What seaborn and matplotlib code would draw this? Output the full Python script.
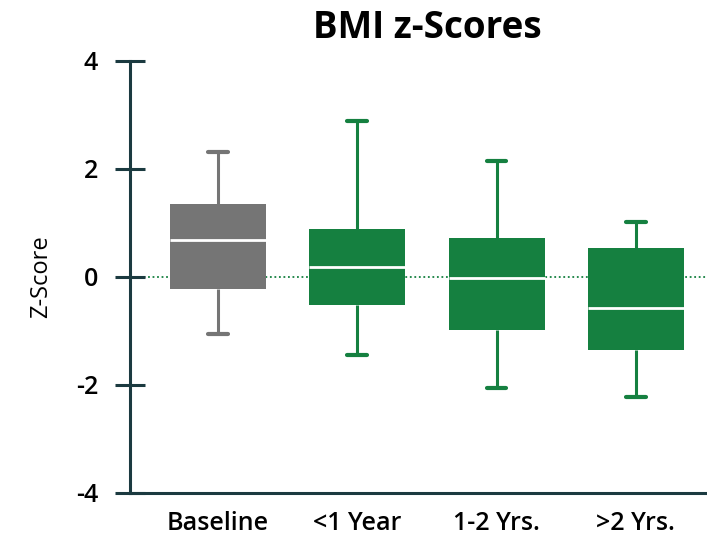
import numpy as np
import pandas as pd
import seaborn as sns
import matplotlib.pyplot as plt

# Five-number summaries (min, Q1, median, Q3, max) per group
categories = ["Baseline", "<1 Year", "1-2 Yrs.", ">2 Yrs."]
mins = [-1.06, -1.44, -2.06, -2.23]
q1s = [-0.22, -0.52, -0.99, -1.36]
medians = [0.69, 0.19, -0.02, -0.57]
q3s = [1.34, 0.89, 0.72, 0.54]
maxs = [2.31, 2.88, 2.15, 1.01]
colors = ["#757575", "#158040", "#158040", "#158040"]

rows = []
for cat, a, b, c, d, e in zip(categories, mins, q1s, medians, q3s, maxs):
    for v in (a, b, c, d, e):
        rows.append({"group": cat, "z": v})
df = pd.DataFrame(rows)

sns.set_theme(style="white")
plt.rcParams["font.family"] = ["Open Sans", "DejaVu Sans"]
plt.rcParams["text.color"] = "black"
plt.rcParams["xtick.color"] = "black"
plt.rcParams["ytick.color"] = "black"
plt.rcParams["axes.labelcolor"] = "black"

fig, ax = plt.subplots(figsize=(7.07, 5.37), dpi=100)
fig.subplots_adjust(left=0.184, right=1.0, top=0.887, bottom=0.082)

# Reference line at zero
ax.axhline(0, color="#158040", lw=1.3, ls=(0, (1, 1.5)), zorder=0)

sns.boxplot(data=df, x="group", y="z", hue="group", order=categories,
            palette=dict(zip(categories, colors)), legend=False,
            whis=(0, 100), width=0.69, showfliers=False, ax=ax,
            medianprops=dict(color="white", lw=2),
            whiskerprops=dict(lw=2.2), capprops=dict(lw=3))

# Colour each box's outline, whiskers and caps to match its fill
for cont, col in zip(ax.containers, colors):
    for b in cont.boxes:
        b.set_facecolor(col)
        b.set_edgecolor(col)
        b.set_linewidth(0)
    for w in cont.whiskers:
        w.set_color(col)
    for cp in cont.caps:
        cp.set_color(col)
        x = cp.get_xdata()
        mid = (x[0] + x[1]) / 2
        cp.set_xdata([mid - 0.07, mid + 0.07])
    for m in cont.medians:
        m.set_color("white")
        m.set_linewidth(2)

ax.set_xlim(-0.63, 3.51)
ax.set_ylim(-4, 4)
ax.set_yticks([-4, -2, 0, 2, 4])
ax.set_yticklabels(["-4", "-2", "0", "2", "4"], fontsize=18, fontweight="semibold")
ax.set_xticks(range(len(categories)))
ax.set_xticklabels(categories, fontsize=18, fontweight="semibold")
ax.tick_params(axis="y", left=True, direction="inout", length=22, width=2.2,
               color="#1b3a40", labelcolor="black", pad=12)
ax.tick_params(axis="x", bottom=False, length=0, pad=13)
ax.set_xlabel("")
ax.set_ylabel("Z-Score", fontsize=17, labelpad=16)

for side in ("top", "right"):
    ax.spines[side].set_visible(False)
for side in ("left", "bottom"):
    ax.spines[side].set_color("#1b3a40")
    ax.spines[side].set_linewidth(2.2)

ax.set_title("BMI z-Scores", fontsize=26.5, fontweight="bold", pad=16,
             x=0.516, color="black")

fig.savefig("out.png", dpi=100)
